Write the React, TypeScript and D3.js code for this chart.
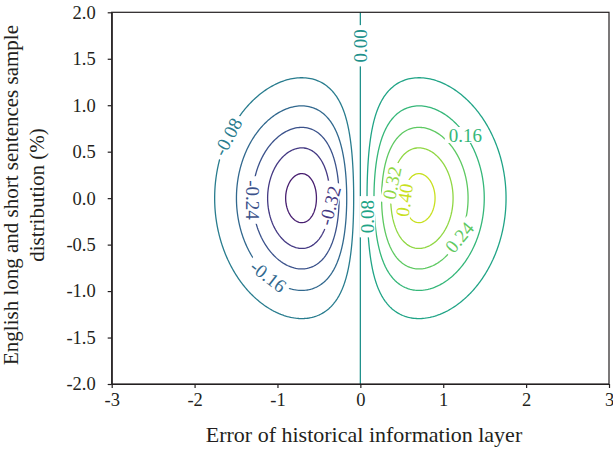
import React, { useEffect, useRef } from "react";
import * as d3 from "d3";

// axis ticks
const xTicks = [-3, -2, -1, 0, 1, 2, 3];
const yTicks = [-2.0, -1.5, -1.0, -0.5, 0.0, 0.5, 1.0, 1.5, 2.0];

// contour levels drawn, and the levels range used for the colour map
const levels = [-0.4, -0.32, -0.24, -0.16, -0.08, 0, 0.08, 0.16, 0.24, 0.32, 0.4];
const colorDomain = [-0.48, 0.48];

// which levels get an inline label, roughly where (data units) and at what angle
const labelLevels = [-0.08, -0.16, -0.24, -0.32, 0, 0.08, 0.16, 0.24, 0.32, 0.4];
const labelX = [-1.66, -1.17, -1.29, -0.46, 0, 0.08, 1.3, 1.18, 0.4, 0.57];
const labelY = [0.68, -0.91, -0.02, -0.07, 1.65, -0.21, 0.69, -0.42, 0.16, -0.02];
const labelRot = [-62, 38, 90, -75, -90, -90, 0, -50, -78, -82];

// sampled surface z = x * exp(-x^2 - y^2)
const surface = (x: number, y: number) => x * Math.exp(-x * x - y * y);

const step = 0.02;
const halfX = 175; // grid spans -3.5..3.5
const halfY = 125; // grid spans -2.5..2.5
const nx = halfX * 2 + 1;
const ny = halfY * 2 + 1;

const App: React.FC = () => {
  const ref = useRef<SVGSVGElement>(null);

  useEffect(() => {
    const width = 613;
    const height = 451;
    const margin = { top: 12.3, right: 4, bottom: 67, left: 111.7 };
    const font = "Liberation Serif";
    const ink = "#231f20";

    const svg = d3.select(ref.current);
    svg.selectAll("*").remove();

    const x = d3.scaleLinear().domain([-3, 3]).range([margin.left, width - margin.right]);
    const y = d3.scaleLinear().domain([-2, 2]).range([height - margin.bottom, margin.top]);
    const color = (v: number) =>
      d3.interpolateViridis((v - colorDomain[0]) / (colorDomain[1] - colorDomain[0]));

    // grid values
    const values: number[] = new Array(nx * ny);
    for (let j = 0; j < ny; j++) {
      for (let i = 0; i < nx; i++) {
        values[j * nx + i] = surface((i - halfX) * step, (halfY - j) * step);
      }
    }
    const toX = (c: number) => (c - 0.5 - halfX) * step;
    const toY = (c: number) => (halfY - (c - 0.5)) * step;

    const contours = d3.contours().size([nx, ny]).thresholds(levels)(values);

    const defs = svg.append("defs");
    defs
      .append("clipPath")
      .attr("id", "plot-clip")
      .append("rect")
      .attr("x", x(-3))
      .attr("y", y(2))
      .attr("width", x(3) - x(-3))
      .attr("height", y(-2) - y(2));

    const mask = defs.append("mask").attr("id", "label-mask").attr("maskUnits", "userSpaceOnUse");
    mask
      .append("rect")
      .attr("x", 0)
      .attr("y", 0)
      .attr("width", width)
      .attr("height", height)
      .attr("fill", "white");

    const line = d3
      .line<number[]>()
      .x((p) => x(toX(p[0])))
      .y((p) => y(toY(p[1])));

    const lines = svg
      .append("g")
      .attr("clip-path", "url(#plot-clip)")
      .append("g")
      .attr("mask", "url(#label-mask)");

    contours.forEach((c) => {
      const d = c.coordinates
        .flatMap((poly) => poly.map((ring) => (line(ring as number[][]) ?? "") + "Z"))
        .join("");
      lines
        .append("path")
        .attr("d", d)
        .attr("fill", "none")
        .attr("stroke", color(c.value))
        .attr("stroke-width", 1.3);
    });

    // inline labels, centred on the contour point closest to each anchor
    const labelsG = svg.append("g");
    labelLevels.forEach((lv, k) => {
      const c = contours.find((cc) => Math.abs(cc.value - lv) < 1e-9);
      if (!c) return;
      const ax = x(labelX[k]);
      const ay = y(labelY[k]);
      let best = [ax, ay];
      let bd = Infinity;
      c.coordinates.forEach((poly) =>
        poly.forEach((ring) =>
          (ring as number[][]).forEach((p) => {
            const px = x(toX(p[0]));
            const py = y(toY(p[1]));
            const dd = (px - ax) ** 2 + (py - ay) ** 2;
            if (dd < bd) {
              bd = dd;
              best = [px, py];
            }
          })
        )
      );
      const [px, py] = best;
      const tr = `translate(${px},${py}) rotate(${labelRot[k]})`;
      const t = labelsG
        .append("text")
        .attr("transform", tr)
        .attr("text-anchor", "middle")
        .attr("dy", "0.35em")
        .style("font-family", font)
        .style("font-size", "19px")
        .attr("fill", color(lv))
        .text(lv.toFixed(2));
      const w = (t.node() as SVGTextElement).getComputedTextLength();
      mask
        .append("rect")
        .attr("transform", tr)
        .attr("x", -w / 2 - 4)
        .attr("y", -8)
        .attr("width", w + 8)
        .attr("height", 16)
        .attr("fill", "black");
    });

    // frame
    svg
      .append("rect")
      .attr("x", x(-3))
      .attr("y", y(2))
      .attr("width", x(3) - x(-3))
      .attr("height", y(-2) - y(2))
      .attr("fill", "none")
      .attr("stroke", ink)
      .attr("stroke-width", 1.2);

    const xAxis = svg
      .append("g")
      .attr("transform", `translate(0,${y(-2)})`)
      .call(
        d3
          .axisBottom(x)
          .tickValues(xTicks)
          .tickSize(4)
          .tickSizeOuter(0)
          .tickPadding(5)
          .tickFormat((d) => String(d))
      );
    const yAxis = svg
      .append("g")
      .attr("transform", `translate(${x(-3)},0)`)
      .call(
        d3
          .axisLeft(y)
          .tickValues(yTicks)
          .tickSize(4)
          .tickSizeOuter(0)
          .tickPadding(12)
          .tickFormat((d) => (d as number).toFixed(1))
      );
    [xAxis, yAxis].forEach((g) => {
      g.attr("font-family", null).attr("font-size", null);
      g.select(".domain").attr("stroke", ink).attr("stroke-width", 1.2);
      g.selectAll(".tick line").attr("stroke", ink).attr("stroke-width", 1.2);
      g.selectAll(".tick text")
        .attr("fill", ink)
        .style("font-family", font)
        .style("font-size", "18.5px");
    });

    svg
      .append("text")
      .attr("x", 364)
      .attr("y", 442)
      .attr("text-anchor", "middle")
      .style("font-family", font)
      .style("font-size", "22px")
      .attr("fill", ink)
      .text("Error of historical information layer");

    const yTitle = svg
      .append("text")
      .attr("transform", `translate(0,195) rotate(-90)`)
      .attr("text-anchor", "middle")
      .style("font-family", font)
      .style("font-size", "21px")
      .attr("fill", ink);
    yTitle.append("tspan").attr("x", 0).attr("y", 18).text("English long and short sentences sample");
    yTitle.append("tspan").attr("x", 0).attr("y", 44).text("distribution (%)");
  }, []);

  return (
    <div style={{ position: "absolute", left: 0, top: 0 }}>
      <svg ref={ref} width={613} height={451} style={{ display: "block", background: "white" }} />
    </div>
  );
};

export default App;
